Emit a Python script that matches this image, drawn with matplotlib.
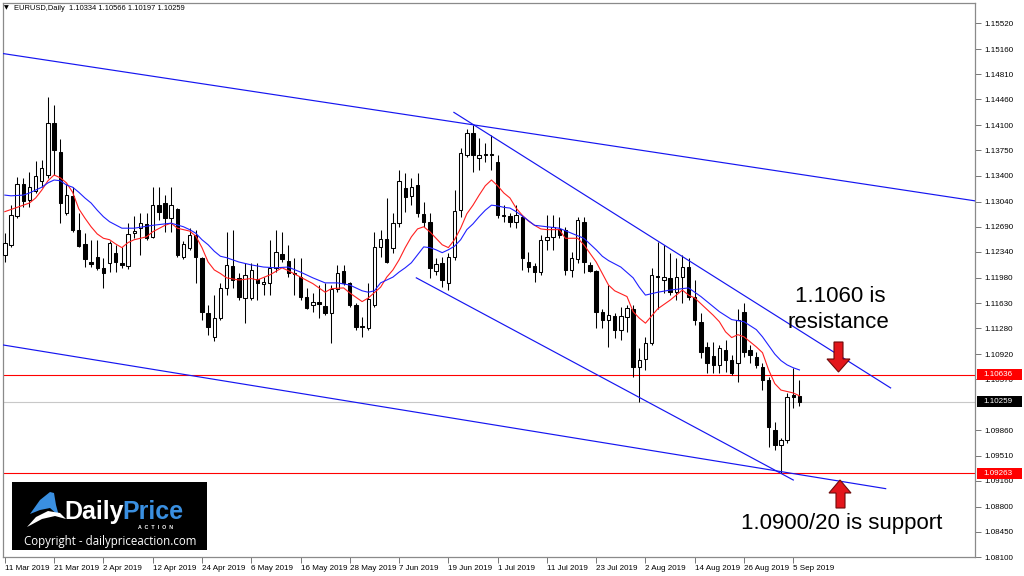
import numpy as np
import pandas as pd
import matplotlib
matplotlib.use("Agg")
import matplotlib.pyplot as plt
import matplotlib.transforms as mtransforms
from matplotlib.patches import Rectangle, Polygon

W, H = 1024, 576

# ---- data (EURUSD daily, 11 Mar 2019 - 6 Sep 2019) ----
start_date = "2019-03-11"

opens = [
    1.1230, 1.1244, 1.1284, 1.1328, 1.1306, 1.1319, 1.1333, 1.1341, 1.1413, 1.1373,
    1.1288, 1.1312, 1.1265, 1.1245, 1.1220, 1.1227, 1.1212, 1.1219, 1.1233, 1.1219,
    1.1215, 1.1260, 1.1267, 1.1273, 1.1255, 1.1299, 1.1302, 1.1281, 1.1294, 1.1227,
    1.1240, 1.1258, 1.1226, 1.1149, 1.1116, 1.1142, 1.1184, 1.1215, 1.1198, 1.1170,
    1.1170, 1.1197, 1.1190, 1.1191, 1.1212, 1.1231, 1.1222, 1.1205, 1.1199, 1.1172,
    1.1160, 1.1165, 1.1159, 1.1149, 1.1183, 1.1208, 1.1191, 1.1160, 1.1131, 1.1128,
    1.1160, 1.1241, 1.1252, 1.1240, 1.1274, 1.1323, 1.1312, 1.1327, 1.1287, 1.1276,
    1.1208, 1.1219, 1.1191, 1.1227, 1.1292, 1.1369, 1.1399, 1.1365, 1.1369, 1.1370,
    1.1359, 1.1284, 1.1284, 1.1276, 1.1283, 1.1220, 1.1215, 1.1206, 1.1251, 1.1255,
    1.1266, 1.1265, 1.1209, 1.1224, 1.1276, 1.1216, 1.1208, 1.1151, 1.1140, 1.1145,
    1.1126, 1.1144, 1.1154, 1.1074, 1.1085, 1.1108, 1.1201, 1.1195, 1.1198, 1.1178,
    1.1199, 1.1213, 1.1172, 1.1137, 1.1102, 1.1090, 1.1077, 1.1098, 1.1084, 1.1080,
    1.1151, 1.1098, 1.1088, 1.1074, 1.1056, 1.0987, 1.0966, 1.0973, 1.1035, 1.10334,
]
highs = [
    1.1260, 1.1299, 1.1338, 1.1337, 1.1345, 1.1360, 1.1362, 1.1449, 1.1438, 1.1391,
    1.1328, 1.1324, 1.1288, 1.1260, 1.1251, 1.1251, 1.1226, 1.1249, 1.1244, 1.1241,
    1.1274, 1.1284, 1.1288, 1.1288, 1.1324, 1.1324, 1.1313, 1.1324, 1.1295, 1.1249,
    1.1267, 1.1265, 1.1227, 1.1160, 1.1174, 1.1191, 1.1262, 1.1265, 1.1205, 1.1219,
    1.1219, 1.1219, 1.1199, 1.1251, 1.1265, 1.1262, 1.1244, 1.1226, 1.1226, 1.1184,
    1.1177, 1.1188, 1.1191, 1.1188, 1.1216, 1.1216, 1.1192, 1.1163, 1.1144, 1.1191,
    1.1262, 1.1265, 1.1309, 1.1288, 1.1348, 1.1344, 1.1337, 1.1344, 1.1303, 1.1288,
    1.1226, 1.1227, 1.1233, 1.1320, 1.1378, 1.1405, 1.1410, 1.1392, 1.1385, 1.1396,
    1.1369, 1.1299, 1.1288, 1.1299, 1.1285, 1.1234, 1.1219, 1.1258, 1.1285, 1.1285,
    1.1283, 1.1269, 1.1234, 1.1283, 1.1283, 1.1220, 1.1209, 1.1154, 1.1188, 1.1149,
    1.1158, 1.1160, 1.1160, 1.1101, 1.1116, 1.1212, 1.1248, 1.1244, 1.1233, 1.1226,
    1.1230, 1.1226, 1.1195, 1.1149, 1.1109, 1.1109, 1.1104, 1.1112, 1.1091, 1.1154,
    1.1163, 1.1105, 1.1095, 1.1080, 1.1060, 1.0997, 1.0976, 1.1038, 1.1073, 1.10566,
]
lows = [
    1.1220, 1.1241, 1.1281, 1.1296, 1.1296, 1.1316, 1.1324, 1.1337, 1.1341, 1.1274,
    1.1285, 1.1262, 1.1241, 1.1213, 1.1213, 1.1209, 1.1184, 1.1206, 1.1206, 1.1212,
    1.1210, 1.1253, 1.1230, 1.1251, 1.1253, 1.1278, 1.1262, 1.1262, 1.1227, 1.1224,
    1.1237, 1.1191, 1.1140, 1.1119, 1.1110, 1.1140, 1.1174, 1.1184, 1.1167, 1.1135,
    1.1167, 1.1167, 1.1174, 1.1174, 1.1206, 1.1220, 1.1199, 1.1174, 1.1167, 1.1154,
    1.1151, 1.1142, 1.1146, 1.1108, 1.1178, 1.1188, 1.1158, 1.1126, 1.1116, 1.1126,
    1.1158, 1.1227, 1.1219, 1.1233, 1.1269, 1.1290, 1.1299, 1.1283, 1.1269, 1.1198,
    1.1202, 1.1185, 1.1181, 1.1223, 1.1283, 1.1366, 1.1345, 1.1348, 1.1359, 1.1348,
    1.1281, 1.1276, 1.1269, 1.1267, 1.1209, 1.1206, 1.1192, 1.1202, 1.1237, 1.1237,
    1.1253, 1.1202, 1.1199, 1.1219, 1.1205, 1.1206, 1.1128, 1.1128, 1.1102, 1.1115,
    1.1112, 1.1123, 1.1060, 1.1026, 1.1070, 1.1105, 1.1154, 1.1177, 1.1174, 1.1167,
    1.1163, 1.1167, 1.1133, 1.1087, 1.1066, 1.1066, 1.1066, 1.1067, 1.1063, 1.1053,
    1.1088, 1.1080, 1.1073, 1.1042, 1.0963, 1.0959, 1.0927, 1.0969, 1.1017, 1.10197,
]
closes = [
    1.1247, 1.1285, 1.1328, 1.1305, 1.1324, 1.1340, 1.1351, 1.1413, 1.1376, 1.1302,
    1.1313, 1.1265, 1.1242, 1.1224, 1.1217, 1.1212, 1.1205, 1.1247, 1.1220, 1.1216,
    1.1259, 1.1263, 1.1274, 1.1253, 1.1299, 1.1290, 1.1281, 1.1299, 1.1230, 1.1245,
    1.1258, 1.1227, 1.1151, 1.1130, 1.1142, 1.1184, 1.1216, 1.1195, 1.1172, 1.1202,
    1.1209, 1.1191, 1.1192, 1.1212, 1.1234, 1.1224, 1.1205, 1.1204, 1.1172, 1.1156,
    1.1165, 1.1162, 1.1149, 1.1183, 1.1205, 1.1191, 1.1160, 1.1130, 1.1130, 1.1169,
    1.1241, 1.1252, 1.1220, 1.1274, 1.1333, 1.1310, 1.1324, 1.1288, 1.1276, 1.1212,
    1.1217, 1.1195, 1.1227, 1.1291, 1.1371, 1.1399, 1.1369, 1.1369, 1.1370, 1.1369,
    1.1285, 1.1285, 1.1276, 1.1285, 1.1226, 1.1213, 1.1206, 1.1251, 1.1255, 1.1269,
    1.1258, 1.1209, 1.1226, 1.1278, 1.1220, 1.1208, 1.1151, 1.1140, 1.1146, 1.1126,
    1.1145, 1.1156, 1.1074, 1.1084, 1.1108, 1.1202, 1.1199, 1.1199, 1.1178, 1.1199,
    1.1213, 1.1172, 1.1140, 1.1095, 1.1080, 1.1077, 1.1101, 1.1084, 1.1066, 1.1140,
    1.1095, 1.1091, 1.1077, 1.1056, 1.0991, 1.0966, 1.0973, 1.1033, 1.1033, 1.10259,
]

# fast (red) and slow (blue) moving averages
red_idx = [0, 2, 4, 5, 6, 7, 8, 9, 10, 11, 12, 13, 14, 15, 16, 17, 18, 19, 20, 21,
           23, 24, 26, 27, 28, 30, 31, 32, 33, 34, 35, 36, 38, 40, 41, 43, 45, 46, 48, 50,
           52, 53, 55, 56, 58, 59, 61, 62, 63, 64, 65, 66, 67, 68, 69, 70, 71, 72, 73, 74,
           75, 76, 77, 78, 79, 80, 81, 82, 83, 84, 85, 86, 87, 88, 90, 91, 93, 94, 96, 98,
           99, 101, 102, 103, 104, 105, 106, 108, 110, 111, 112, 113, 115, 116, 117, 118,
           119, 120, 121, 122, 123, 124, 125, 126, 127, 128, 129]
red_ma = [1.1290, 1.1296, 1.1302, 1.1309, 1.1320, 1.1333, 1.1341, 1.1337, 1.1330, 1.1317,
          1.1294, 1.1281, 1.1269, 1.1259, 1.1253, 1.1251, 1.1245, 1.1240, 1.1247, 1.1251,
          1.1255, 1.1262, 1.1271, 1.1274, 1.1267, 1.1263, 1.1256, 1.1240, 1.1220, 1.1209,
          1.1204, 1.1198, 1.1195, 1.1197, 1.1195, 1.1202, 1.1212, 1.1208, 1.1199, 1.1190,
          1.1178, 1.1183, 1.1184, 1.1177, 1.1165, 1.1170, 1.1185, 1.1199, 1.1209, 1.1223,
          1.1240, 1.1255, 1.1266, 1.1269, 1.1262, 1.1253, 1.1244, 1.1240, 1.1251, 1.1267,
          1.1287, 1.1299, 1.1313, 1.1326, 1.1334, 1.1326, 1.1316, 1.1309, 1.1295, 1.1285,
          1.1277, 1.1271, 1.1266, 1.1265, 1.1265, 1.1253, 1.1253, 1.1244, 1.1220, 1.1188,
          1.1180, 1.1172, 1.1151, 1.1142, 1.1135, 1.1145, 1.1155, 1.1167, 1.1181, 1.1174,
          1.1170, 1.1162, 1.1146, 1.1137, 1.1123, 1.1115, 1.1119, 1.1116, 1.1109, 1.1102,
          1.1094, 1.1070, 1.1051, 1.1042, 1.1040, 1.1038, 1.1034]
blue_idx = [0, 1, 3, 4, 6, 7, 8, 9, 10, 11, 12, 13, 14, 15, 16, 17, 19, 21, 24, 27,
            29, 30, 31, 32, 33, 34, 35, 36, 38, 40, 42, 44, 46, 48, 50, 52, 54, 56, 58, 59,
            60, 61, 62, 63, 64, 65, 66, 67, 68, 69, 70, 71, 72, 73, 74, 75, 76, 77, 78, 79,
            80, 81, 82, 83, 84, 86, 88, 90, 92, 94, 96, 97, 98, 100, 102, 103, 104, 106, 108, 111,
            112, 113, 115, 116, 118, 120, 122, 123, 124, 125, 126, 127, 128, 129]
blue_ma = [1.1313, 1.1312, 1.1313, 1.1316, 1.1324, 1.1330, 1.1334, 1.1333, 1.1327, 1.1324,
           1.1317, 1.1309, 1.1302, 1.1292, 1.1283, 1.1276, 1.1267, 1.1267, 1.1271, 1.1274,
           1.1269, 1.1265, 1.1260, 1.1251, 1.1244, 1.1235, 1.1228, 1.1226, 1.1220, 1.1216,
           1.1213, 1.1212, 1.1213, 1.1206, 1.1198, 1.1191, 1.1191, 1.1188, 1.1180, 1.1178,
           1.1180, 1.1191, 1.1195, 1.1199, 1.1206, 1.1212, 1.1219, 1.1230, 1.1241, 1.1240,
           1.1237, 1.1233, 1.1237, 1.1242, 1.1251, 1.1265, 1.1273, 1.1283, 1.1292, 1.1299,
           1.1298, 1.1296, 1.1295, 1.1290, 1.1284, 1.1271, 1.1269, 1.1267, 1.1260, 1.1253,
           1.1237, 1.1228, 1.1222, 1.1213, 1.1198, 1.1185, 1.1174, 1.1178, 1.1181, 1.1184,
           1.1178, 1.1172, 1.1158, 1.1151, 1.1140, 1.1137, 1.1126, 1.1116, 1.1104, 1.1092,
           1.1083, 1.1077, 1.1073, 1.1070]

# trend lines: (bar index pair, price pair)
upper_long = ([-0.5, 157.5], [1.1510, 1.1305])
lower_long = ([-0.5, 143.0], [1.1105, 1.0905])
upper_steep = ([72.9, 143.8], [1.1428, 1.1045])
lower_steep = ([66.8, 128.0], [1.1198, 1.0917])

resistance = 1.10636
support = 1.09263
last_price = 1.10259

price_ticks = [1.0810, 1.0845, 1.0880, 1.0916, 1.0951, 1.0986, 1.1057, 1.1092,
               1.1128, 1.1163, 1.1198, 1.1234, 1.1269, 1.1304, 1.1340, 1.1375, 1.1410,
               1.1446, 1.1481, 1.1516, 1.1552]

header = "EURUSD,Daily  1.10334 1.10566 1.10197 1.10259"

# ---- plot ----
plt.rcParams['font.family'] = ['Liberation Sans', 'DejaVu Sans']

fig = plt.figure(figsize=(W / 100, H / 100), dpi=100)
ax = fig.add_axes([3 / W, 1 - 557 / H, 972 / W, 554 / H])

o = np.array(opens)
h = np.array(highs)
l = np.array(lows)
c = np.array(closes)
idx = np.arange(len(o))
up = c >= o

ax.vlines(idx, l, h, color='black', lw=0.75, zorder=2)
ax.bar(idx[up], (c - o)[up], bottom=o[up], width=0.55, color='white',
       edgecolor='black', lw=0.75, zorder=3)
ax.bar(idx[~up], (c - o)[~up], bottom=o[~up], width=0.55, color='black',
       edgecolor='black', lw=0.75, zorder=3)

ax.plot(red_idx, red_ma, color='#ff2020', lw=0.8, zorder=4)
ax.plot(blue_idx, blue_ma, color='#2020ff', lw=0.8, zorder=4)

for xs, ys in [upper_long, lower_long, upper_steep, lower_steep]:
    ax.plot(xs, ys, color='#1515f0', lw=0.85, zorder=5)

ax.axhline(resistance, color='#ff0000', lw=0.8, zorder=1)
ax.axhline(support, color='#ff0000', lw=0.8, zorder=1)
ax.axhline(last_price, color='#c8c8c8', lw=0.8, zorder=1)

ax.set_xlim(-0.3, 157.5)
ax.set_ylim(1.0810, 1.1580)

dates = pd.bdate_range(start_date, periods=len(o))
tick_pos = idx[::8]
ax.set_xticks(tick_pos)
ax.set_xticklabels([f"{d.day} {d.strftime('%b %Y')}" for d in dates[::8]])
for lbl in ax.get_xticklabels():
    lbl.set_ha('left')
ax.tick_params(axis='x', length=4, width=0.6, pad=2, labelsize=5.8, color='#606060')

ax.yaxis.tick_right()
ax.set_yticks(price_ticks)
ax.set_yticklabels([f"{p:.5f}" for p in price_ticks])
ax.tick_params(axis='y', length=4, width=0.6, pad=3, labelsize=5.8, color='#606060')

for s in ax.spines.values():
    s.set_color('#8a8a8a')
    s.set_linewidth(0.9)

# price boxes on the right scale
trans = mtransforms.blended_transform_factory(ax.transAxes, ax.transData)
for val, bg in [(resistance, '#ff0000'), (last_price, 'black'), (support, '#ff0000')]:
    ax.add_patch(Rectangle((1.002, val - 0.00076), 0.046, 0.00152, transform=trans,
                           facecolor=bg, edgecolor='none', clip_on=False, zorder=10))
    ax.text(1.009, val, f"{val:.5f}", transform=trans, color='white', fontsize=5.8,
            va='center', ha='left', clip_on=False, zorder=11)

# header
fig.text(4 / W, 1 - 8 / H, "\u25bc", fontsize=4.5, va='center', family='DejaVu Sans')
fig.text(14 / W, 1 - 8 / H, header, fontsize=5.4, va='center')


def fpx(x, y):
    return (x / W, 1 - y / H)


# annotations
fig.text(*fpx(840, 297), "1.1060 is", fontsize=16, ha='center', va='center')
fig.text(*fpx(838, 323), "resistance", fontsize=16, ha='center', va='center')
fig.text(*fpx(842, 523), "1.0900/20 is support", fontsize=16, ha='center', va='center')

down_arrow = [(834, 342), (843, 342), (843, 359), (850, 359), (838.5, 372), (827, 359), (834, 359)]
up_arrow = [(840, 480), (851, 493), (845, 493), (845, 508), (836, 508), (836, 493), (829, 493)]
for pts in [down_arrow, up_arrow]:
    fig.add_artist(Polygon([fpx(x, y) for x, y in pts], closed=True, transform=fig.transFigure,
                           facecolor='#e3161c', edgecolor='#6e0a0a', lw=0.8))

# logo block
fig.add_artist(Rectangle(fpx(12, 550), 195 / W, 68 / H, transform=fig.transFigure,
                         facecolor='black', edgecolor='none'))
fin = [(30, 514), (40, 500), (50, 492), (54, 493), (56, 505), (59, 516), (50, 508), (40, 510)]
swoosh = [(27, 527), (36, 517), (48, 511), (60, 513), (66, 519), (55, 516), (42, 519)]
fig.add_artist(Polygon([fpx(x, y) for x, y in fin], closed=True, transform=fig.transFigure,
                       facecolor='#3a8fe0', edgecolor='none'))
fig.add_artist(Polygon([fpx(x, y) for x, y in swoosh], closed=True, transform=fig.transFigure,
                       facecolor='white', edgecolor='none'))
fig.text(*fpx(64, 519), "Daily", fontsize=18, fontweight='bold', color='white', va='baseline')
fig.text(*fpx(122, 519), "Price", fontsize=18, fontweight='bold', color='#3a8fe0', va='baseline')
fig.text(*fpx(156, 529), "A  C  T  I  O  N", fontsize=3.8, fontweight='bold', color='white',
         ha='center', va='baseline')
fig.text(*fpx(110, 542), "Copyright - dailypriceaction.com", fontsize=8.3, color='white',
         ha='center', va='center', family=['Open Sans', 'DejaVu Sans'])

fig.savefig("out.png", dpi=100, facecolor='white')
